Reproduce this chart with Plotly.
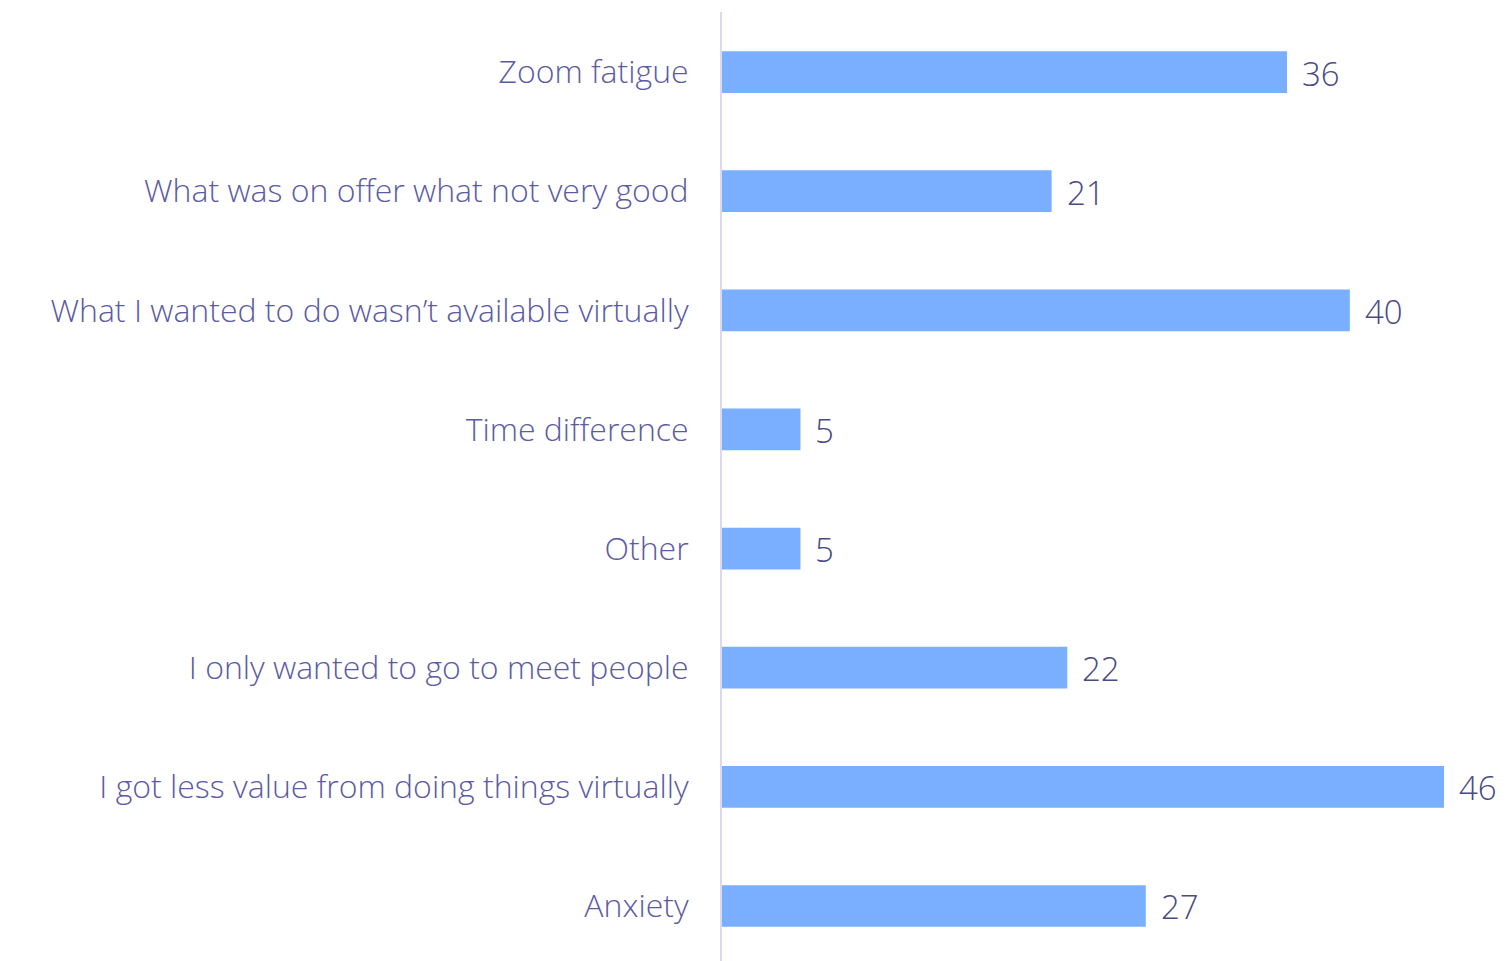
import plotly.graph_objects as go

categories = [
    "Zoom fatigue",
    "What was on offer what not very good",
    "What I wanted to do wasn\u2019t available virtually",
    "Time difference",
    "Other",
    "I only wanted to go to meet people",
    "I got less value from doing things virtually",
    "Anxiety",
]
values = [36, 21, 40, 5, 5, 22, 46, 27]

BAR = "#7aafff"
LABEL = "#5b5ba3"
VALUE = "#4a4a85"

fig = go.Figure(go.Bar(
    x=values, y=categories, orientation="h",
    marker=dict(color=BAR, line=dict(width=0)),
    width=0.35, hoverinfo="skip",
))

for c, v in zip(categories, values):
    fig.add_annotation(x=v, y=c, text=str(v), showarrow=False, xanchor="left",
                       xshift=13, yshift=-1,
                       font=dict(family="Open Sans", size=33, color=VALUE, weight=300))

fig.update_layout(
    width=1510, height=961,
    margin=dict(l=714, r=0, t=4, b=0),
    paper_bgcolor="white", plot_bgcolor="white",
    showlegend=False,
    font=dict(family="Open Sans", color=LABEL),
)
fig.update_xaxes(range=[0, 796 / 15.696], visible=False)
fig.update_yaxes(
    range=[7.529, -0.504], showgrid=False, zeroline=False,
    showline=True, linecolor="#d9d9f0", linewidth=2,
    ticks="", ticklabelstandoff=25,
    tickfont=dict(family="Open Sans", size=32, color=LABEL, weight=300),
)

fig.write_html("out.html")
